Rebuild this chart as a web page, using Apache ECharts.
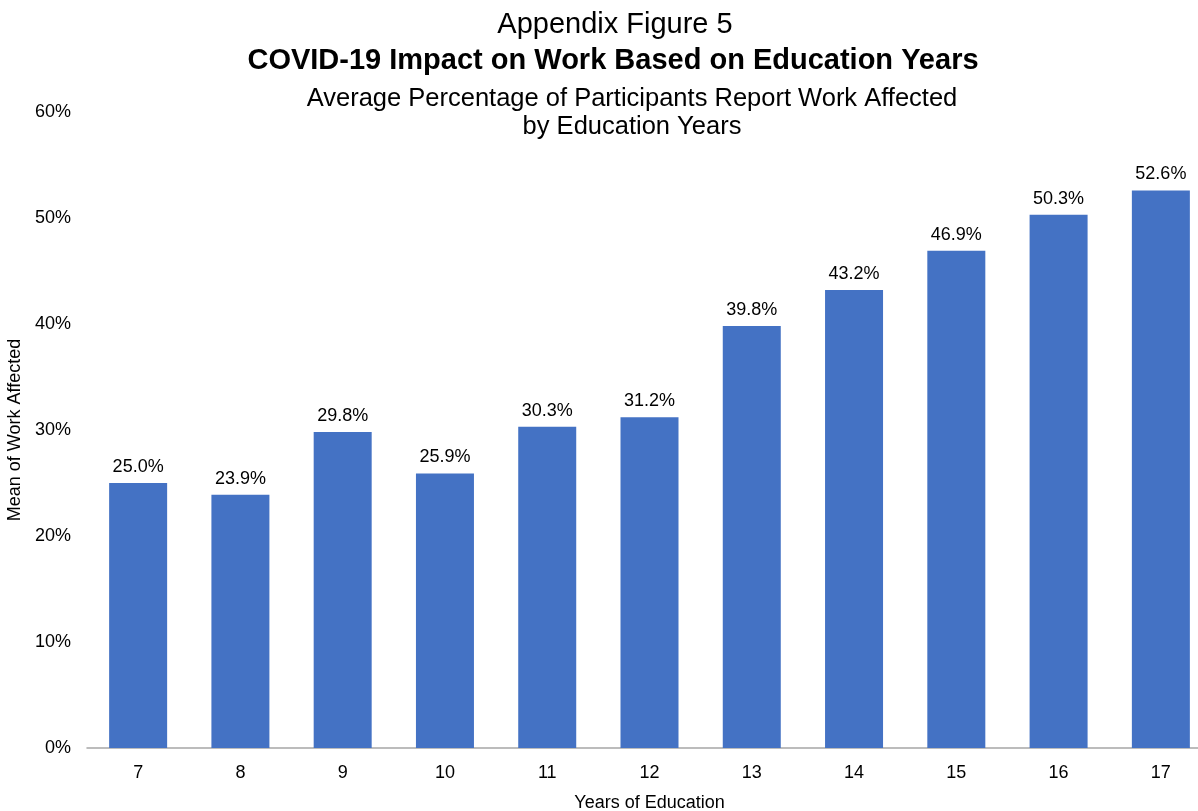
<!DOCTYPE html>
<html>
<head>
<meta charset="utf-8">
<script src="https://cdn.jsdelivr.net/npm/echarts@6/dist/echarts.min.js"></script>
<style>
  html, body { margin: 0; padding: 0; background: #fff; }
  #chart { width: 1198px; height: 811px; }
</style>
</head>
<body>
<div id="chart"></div>
<script>
// Years of education and the mean share reporting work affected (%)
const educationYears = ['7', '8', '9', '10', '11', '12', '13', '14', '15', '16', '17'];
const workAffected = [25.0, 23.9, 29.8, 25.9, 30.3, 31.2, 39.8, 43.2, 46.9, 50.3, 52.6];
const yTicks = [0, 10, 20, 30, 40, 50, 60];

const sans = '"Liberation Sans", Arial, sans-serif';

const chart = echarts.init(document.getElementById('chart'));
chart.setOption({
  backgroundColor: '#ffffff',
  animation: false,
  title: [
    {
      text: 'Appendix Figure 5',
      left: 610, top: 5, textAlign: 'center',
      textStyle: { fontFamily: sans, fontSize: 29, fontWeight: 'normal', color: '#000' }
    },
    {
      text: 'COVID-19 Impact on Work Based on Education Years',
      left: 608, top: 41, textAlign: 'center',
      textStyle: { fontFamily: sans, fontSize: 29, fontWeight: 'bold', color: '#000' }
    },
    {
      text: 'Average Percentage of Participants Report Work Affected\nby Education Years',
      left: 627, top: 80, textAlign: 'center',
      textStyle: { fontFamily: sans, fontSize: 25.5, fontWeight: 'normal', color: '#000', lineHeight: 28 }
    }
  ],
  grid: { left: 87, top: 112, width: 1125, bottom: 63, containLabel: false, outerBoundsMode: 'none' },
  xAxis: {
    type: 'category',
    data: educationYears,
    name: 'Years of Education',
    nameLocation: 'middle',
    nameGap: 46,
    nameTextStyle: { fontFamily: sans, fontSize: 18, color: '#000' },
    axisLine: { lineStyle: { color: '#a6a6a6', width: 1.5 } },
    axisTick: { show: false },
    axisLabel: { fontFamily: sans, fontSize: 18, color: '#000', margin: 16 }
  },
  yAxis: {
    type: 'value',
    min: 0, max: 60, interval: 10,
    name: 'Mean of Work Affected',
    nameLocation: 'middle',
    nameRotate: 90,
    nameGap: 55,
    nameTextStyle: { fontFamily: sans, fontSize: 18, color: '#000' },
    axisLine: { show: false },
    axisTick: { show: false },
    splitLine: { show: false },
    axisLabel: {
      fontFamily: sans, fontSize: 18, color: '#000', margin: 16,
      formatter: v => (yTicks.includes(v) ? v + '%' : '')
    }
  },
  series: [{
    type: 'bar',
    data: workAffected,
    barWidth: 58,
    itemStyle: { color: '#4472C4' },
    label: {
      show: true,
      position: 'top',
      distance: 7,
      fontFamily: sans, fontSize: 18, color: '#000',
      formatter: p => p.value.toFixed(1) + '%'
    }
  }]
});
</script>
</body>
</html>
